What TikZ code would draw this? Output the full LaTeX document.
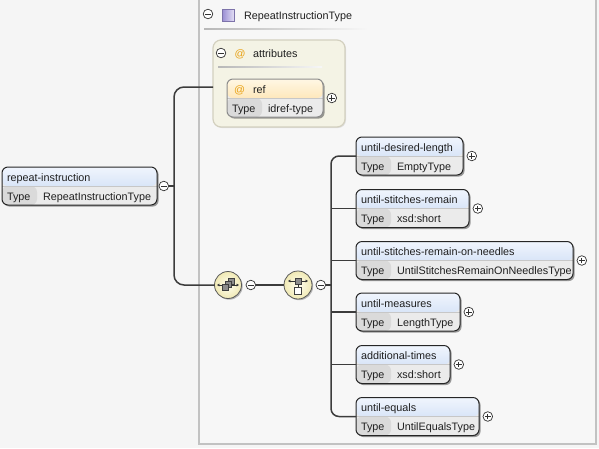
\documentclass[tikz,border=0pt]{standalone}
\usepackage{fontspec}
\setmainfont{Liberation Sans}
\usetikzlibrary{shadows,positioning,calc,arrows.meta}

\definecolor{bg}{HTML}{F5F5F5}
\definecolor{bgin}{HTML}{F7F7F7}
\definecolor{frame}{HTML}{C2C2C2}
\definecolor{wire}{HTML}{3C3C3C}
\definecolor{hdtop}{HTML}{F0F5FD}
\definecolor{hdbot}{HTML}{C2D5F2}
\definecolor{labcell}{HTML}{DADADA}
\definecolor{valcell}{HTML}{EBEBEB}
\definecolor{attrfill}{HTML}{F4F3E5}
\definecolor{attrline}{HTML}{D3D0BF}
\definecolor{reftop}{HTML}{FFF7E4}
\definecolor{refbot}{HTML}{FCD894}
\definecolor{atsign}{HTML}{E9A215}
\definecolor{compin}{HTML}{FFFEF0}
\definecolor{compout}{HTML}{F0E9B4}
\definecolor{iconfill}{HTML}{8C8C8C}
\definecolor{typeiconA}{HTML}{9C90D4}
\definecolor{typeiconB}{HTML}{E6E2F6}

\tikzset{
  x=1pt, y=-1pt,
  every node/.style={font=\fontsize{10.8}{12}\selectfont, inner sep=0pt, outer sep=0pt, text=black!88},
  hdcol/.code 2 args={\colorlet{curtop}{#1}\colorlet{curbot}{#2}},
  wire/.style={draw=wire, line width=1.5pt},
  elembox/.style={draw=black!85, line width=1pt, rounded corners=6pt,
    minimum height=38pt, anchor=north west, fill=valcell, hdcol={hdtop}{hdbot},
    drop shadow={shadow xshift=1.6pt, shadow yshift=-1.6pt, fill=black!70, opacity=.55},
    path picture={
      \fill[top color=curtop, bottom color=curbot]
        (path picture bounding box.north west) rectangle
        ([yshift=-19pt]path picture bounding box.north east);
      \fill[labcell]
        ([yshift=-19pt]path picture bounding box.north west) rectangle
        ([xshift=35pt]path picture bounding box.south west);
      \draw[black!22, line width=.6pt]
        ([yshift=-19pt]path picture bounding box.north west) --
        ([yshift=-19pt]path picture bounding box.north east);
    }},
  refbox/.style={elembox, draw=black!45, hdcol={reftop}{refbot}},
  attrbox/.style={draw=attrline, line width=1.2pt, fill=attrfill, rounded corners=8pt,
    anchor=north west,
    drop shadow={shadow xshift=1pt, shadow yshift=-1pt, fill=black!40, opacity=.25}},
  pm/.style={circle, draw=black!80, fill=white, line width=.7pt, minimum size=9.6pt},
  minus/.style={pm, path picture={
      \draw[black!80, line width=.7pt]
        ([xshift=-2.7pt]path picture bounding box.center) --
        ([xshift=2.7pt]path picture bounding box.center);}},
  plus/.style={pm, path picture={
      \draw[black!80, line width=.7pt]
        ([xshift=-2.7pt]path picture bounding box.center) --
        ([xshift=2.7pt]path picture bounding box.center)
        ([yshift=-2.7pt]path picture bounding box.center) --
        ([yshift=2.7pt]path picture bounding box.center);}},
  comp/.style={circle, draw=black!65, line width=.8pt, inner color=compin, outer color=compout,
    drop shadow={shadow xshift=1.2pt, shadow yshift=-1.2pt, fill=black!60, opacity=.45}},
  sq/.style={draw=black!75, fill=iconfill, line width=.5pt},
  dbl/.style={draw=black!80, line width=.8pt, {Latex[length=2.4pt,width=3.2pt]}-{Latex[length=2.4pt,width=3.2pt]}},
  fadeline/.style={left color=black!28, right color=bgin, draw=none},
}

% element box with a name row and a type row
\newcommand\xsdelem[6]{%
  \node[elembox, minimum width=#4pt] (#1) at (#2,#3) {};
  \node[anchor=base west] (#1-name) at ($(#1.north west)+(5,14)$) {#5};
  \node[anchor=base west] (#1-tl) at ($(#1.north west)+(5,33)$) {Type};
  \node[anchor=base west] (#1-tv) at ($(#1.north west)+(41,33)$) {#6};
}

\begin{document}
\begin{tikzpicture}
  \useasboundingbox (0,0) rectangle (599,448);
  \fill[bg] (0,0) rectangle (599,448);

  % complex type frame
  \draw[frame, line width=2pt, fill=bgin] (199,-4) rectangle (596,444);
  \node[minus] (typeminus) at (208,14) {};
  \node[draw=typeiconA!80!black, line width=.5pt, left color=typeiconA, right color=typeiconB,
        minimum size=12pt] (typeicon) at (228.5,15) {};
  \node[anchor=base west] (typename) at (244,19) {RepeatInstructionType};
  \fill[fadeline] (204,28.5) rectangle (368,29.7);

  % attribute group
  \node[attrbox, minimum width=132pt, minimum height=87pt] (attr) at (213,40) {};
  \node[minus] (attrminus) at (221,53) {};
  \node[anchor=base, text=atsign] (attrat) at (240,57) {@};
  \node[anchor=base west] (attrname) at (253,57) {attributes};
  \fill[fadeline] (218,66.5) rectangle (322,67.5);

  \node[refbox, minimum width=96pt] (ref) at (227,79) {};
  \node[anchor=base, text=atsign] (refat) at (239.5,93) {@};
  \node[anchor=base west] (refname) at (253,93) {ref};
  \node[anchor=base west] (reftl) at (232,112) {Type};
  \node[anchor=base west] (reftv) at (268,112) {idref-type};
  \node[plus, right=4pt of ref.east] (refplus) {};

  % root element
  \xsdelem{ri}{2}{167}{155}{repeat-instruction}{RepeatInstructionType}
  \node[minus, right=2pt of ri.east] (riminus) {};

  % child elements of the choice
  \xsdelem{c1}{356}{137}{107}{until-desired-length}{EmptyType}
  \xsdelem{c2}{356}{189.5}{113}{until-stitches-remain}{xsd:short}
  \xsdelem{c3}{356}{241.5}{217}{until-stitches-remain-on-needles}{UntilStitchesRemainOnNeedlesType}
  \xsdelem{c4}{356}{293}{104}{until-measures}{LengthType}
  \xsdelem{c5}{356}{345.5}{94}{additional-times}{xsd:short}
  \xsdelem{c6}{356}{397.5}{123}{until-equals}{UntilEqualsType}
  \foreach \c in {c1,c2,c3,c4,c5,c6}
    \node[plus, right=4pt of \c.east] (\c-plus) {};

  % compositors
  \node[comp, minimum size=27pt] (seq) at (228,285) {};
  \node[minus, right=4.5pt of seq.east] (seqminus) {};
  \node[comp, minimum size=28pt] (choice) at (298,285) {};
  \node[minus, right=4pt of choice.east] (chminus) {};

  % compositor icons
  \begin{scope}[shift={(seq.center)}]
    \draw[dbl] (-11,0) -- (11,0);
    \draw[sq] (0.5,-6.5) rectangle (6.5,-0.5);
    \draw[sq] (-2.5,-3.5) rectangle (3.5,2.5);
    \draw[sq] (-5.5,-0.5) rectangle (0.5,5.5);
  \end{scope}
  \begin{scope}[shift={(choice.center)}]
    \draw[dbl] (-10,-4) -- (10,-4);
    \draw[sq] (-3,-7) rectangle (3,-1);
    \draw[black!80, line width=.6pt] (0,-1) -- (0,2.5);
    \draw[draw=black!75, fill=white, line width=.6pt] (-3.5,2.5) rectangle (3.5,9.5);
  \end{scope}

  % connectors
  \coordinate (trunk) at (174,186);
  \coordinate (attrin) at ([yshift=-3.5pt]attr.west);
  \coordinate (ctrunk) at (331,285);
  \draw[wire] (riminus.east) -- (trunk);
  \draw[wire, rounded corners=10pt] (attrin) -| (trunk) |- (seq.west);
  \draw[wire] (seqminus.east) -- (choice.west);
  \draw[wire] (chminus.east) -- (ctrunk);
  \draw[wire, rounded corners=8pt] (c1.west) -| (ctrunk) |- (c6.west);
  \foreach \c in {c2,c3,c4,c5}
    \draw[wire] (ctrunk |- \c.west) -- (\c.west);
\end{tikzpicture}
\end{document}
